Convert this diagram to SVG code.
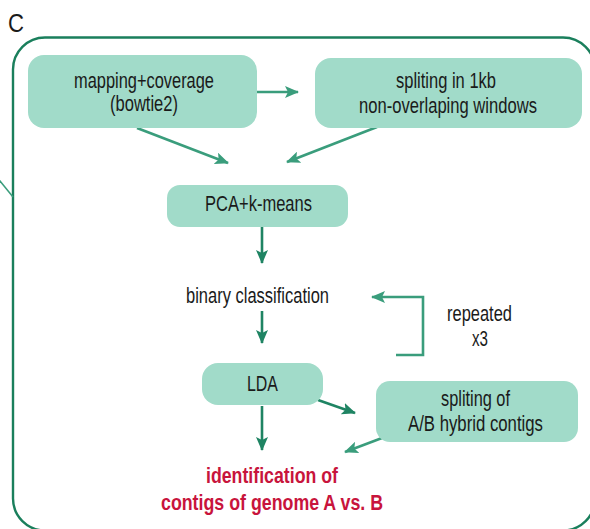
<svg xmlns="http://www.w3.org/2000/svg" width="590" height="529" viewBox="0 0 590 529">
<style>
.node{fill:#a1dbc9;}
.t{font-family:"Liberation Sans",Arial,sans-serif;font-size:21.5px;fill:#1a1a1a;text-anchor:middle;}
.red{font-family:"Liberation Sans",Arial,sans-serif;font-size:21.5px;font-weight:bold;fill:#c8143c;text-anchor:middle;}
.c1{stroke:#3a9d7c;stroke-width:2.6;fill:none;}
.c2{stroke:#1f8463;stroke-width:2.6;fill:none;}
</style>
<defs>
<marker id="a1" markerUnits="userSpaceOnUse" viewBox="0 0 14 12" refX="13" refY="6" markerWidth="14" markerHeight="12" orient="auto">
<path d="M0,0 L14,6 L0,12 L3,6 Z" fill="#3a9d7c"/>
</marker>
<marker id="a2" markerUnits="userSpaceOnUse" viewBox="0 0 14 12" refX="13" refY="6" markerWidth="14" markerHeight="12" orient="auto">
<path d="M0,0 L14,6 L0,12 L3,6 Z" fill="#1f8463"/>
</marker>
</defs>
<rect width="590" height="529" fill="#ffffff"/>
<text x="8" y="32" textLength="16" lengthAdjust="spacingAndGlyphs" style="font-family:'Liberation Sans',Arial,sans-serif;font-size:26px;fill:#1a1a1a;">C</text>
<g id="frame">
<rect x="13" y="37.5" width="582" height="493" rx="32" ry="32" fill="none" stroke="#1a7f5c" stroke-width="2.4"/>
<line x1="-4" y1="176" x2="13" y2="197" stroke="#3a9d7c" stroke-width="1.6"/>
</g>
<g id="connectors">
<line class="c1" x1="257" y1="92" x2="298" y2="92" marker-end="url(#a1)"/>
<line class="c1" x1="137" y1="128" x2="228" y2="163" marker-end="url(#a1)"/>
<line class="c1" x1="377" y1="127" x2="287" y2="162" marker-end="url(#a1)"/>
<line class="c2" x1="262" y1="227" x2="262" y2="263" marker-end="url(#a2)"/>
<line class="c2" x1="262" y1="311" x2="262" y2="343" marker-end="url(#a2)"/>
<polyline class="c1" points="396,355 423,355 423,297 372,297" marker-end="url(#a1)"/>
<line class="c2" x1="262" y1="406" x2="262" y2="450" marker-end="url(#a2)"/>
<line class="c2" x1="318" y1="400" x2="355" y2="413" marker-end="url(#a2)"/>
<line class="c1" x1="382" y1="438" x2="345" y2="452" marker-end="url(#a1)"/>
</g>
<g id="mapping">
<rect class="node" x="28" y="55" width="229" height="73" rx="16"/>
<text class="t" x="144" y="87.5" textLength="140" lengthAdjust="spacingAndGlyphs">mapping+coverage</text>
<text class="t" x="144" y="110.5" textLength="68" lengthAdjust="spacingAndGlyphs">(bowtie2)</text>
</g>
<g id="spliting1kb">
<rect class="node" x="315" y="58" width="267" height="70" rx="16"/>
<text class="t" x="446" y="87.5" textLength="100" lengthAdjust="spacingAndGlyphs">spliting in 1kb</text>
<text class="t" x="448" y="112.5" textLength="178" lengthAdjust="spacingAndGlyphs">non-overlaping windows</text>
</g>
<g id="pca">
<rect class="node" x="167" y="185" width="181" height="42" rx="13"/>
<text class="t" x="258.5" y="210.5" textLength="107" lengthAdjust="spacingAndGlyphs">PCA+k-means</text>
</g>
<g id="binary">
<text class="t" x="257.5" y="303" textLength="143" lengthAdjust="spacingAndGlyphs">binary classification</text>
</g>
<g id="repeated">
<text class="t" x="479.5" y="320.5" textLength="65" lengthAdjust="spacingAndGlyphs">repeated</text>
<text class="t" x="480" y="345.5" textLength="16" lengthAdjust="spacingAndGlyphs">x3</text>
</g>
<g id="lda">
<rect class="node" x="202" y="363" width="121" height="42" rx="16"/>
<text class="t" x="262.5" y="390.5" textLength="31" lengthAdjust="spacingAndGlyphs">LDA</text>
</g>
<g id="splitAB">
<rect class="node" x="376" y="381" width="202" height="61" rx="14"/>
<text class="t" x="475.5" y="405.5" textLength="69" lengthAdjust="spacingAndGlyphs">spliting of</text>
<text class="t" x="475.5" y="430.5" textLength="135" lengthAdjust="spacingAndGlyphs">A/B hybrid contigs</text>
</g>
<g id="identification">
<text class="red" x="272" y="482.5" textLength="132" lengthAdjust="spacingAndGlyphs">identification of</text>
<text class="red" x="272" y="509.5" textLength="222" lengthAdjust="spacingAndGlyphs">contigs of genome A vs. B</text>
</g>
</svg>
